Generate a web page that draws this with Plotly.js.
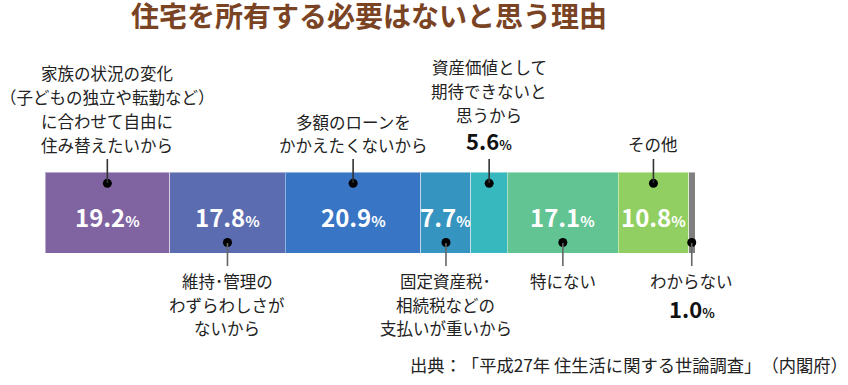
<!DOCTYPE html>
<html>
<head>
<meta charset="utf-8">
<script src="https://cdn.plot.ly/plotly-3.0.1.min.js"></script>
<style>html,body{margin:0;padding:0;background:#fff;}#chart{width:848px;height:385px;}
text{text-spacing-trim:space-all;}</style>
</head>
<body>
<div id="chart"></div>
<script>
// ---- data ----
const categories = [
  "家族の状況の変化（子どもの独立や転勤など）に合わせて自由に住み替えたいから",
  "維持･管理のわずらわしさがないから",
  "多額のローンをかかえたくないから",
  "固定資産税･相続税などの支払いが重いから",
  "資産価値として期待できないと思うから",
  "特にない",
  "その他",
  "わからない"
];
const values = [19.2, 17.8, 20.9, 7.7, 5.6, 17.1, 10.8, 1.0];
const labelLines = [
  ["家族の状況の変化", "（子どもの独立や転勤など）", "に合わせて自由に", "住み替えたいから"],
  ["維持･管理の", "わずらわしさが", "ないから"],
  ["多額のローンを", "かかえたくないから"],
  ["固定資産税･", "相続税などの", "支払いが重いから"],
  ["資産価値として", "期待できないと", "思うから"],
  ["特にない"],
  ["その他"],
  ["わからない"]
];
const sides = ["top", "bottom", "top", "bottom", "top", "bottom", "top", "bottom"];
const valueInside = [true, true, true, true, false, true, true, false];
const colors = ["#8064A2", "#5B6CB0", "#3875C5", "#3594C0", "#36B8BE", "#62C393", "#92CF62", "#808080"];
const titleText = "住宅を所有する必要はないと思う理由";
const sourceText = "出典：「平成27年 住生活に関する世論調査」（内閣府）";

// ---- layout helpers ----
const W = 848, H = 385, T = 172, B = 132;
const plotH = H - T - B;
const py = p => (H - B - p) / plotH; // pixel y -> paper y
const FONT = '"Noto Sans CJK JP", "Noto Sans", sans-serif';

const total = values.reduce((a, b) => a + b, 0);
const mids = [];
let acc = 0;
values.forEach(v => { mids.push(acc + v / 2); acc += v; });

const traces = values.map((v, i) => ({
  type: 'bar', orientation: 'h', y: [0], x: [v], width: [1],
  name: categories[i],
  marker: { color: colors[i], line: { color: 'rgba(255,255,255,0.45)', width: 1 } },
  hoverinfo: 'skip', showlegend: false
}));

// dots
traces.push({
  type: 'scatter', mode: 'markers', cliponaxis: false, showlegend: false, hoverinfo: 'skip',
  x: mids,
  y: sides.map(s => s === 'top' ? 0.36 : -0.37),
  marker: { color: '#000', size: 9 }
});

const shapes = [];
const annotations = [];

const topLineY = { 0: [73, 97, 121, 145], 2: [122, 145], 4: [67, 91, 115], 6: [144] };
const botLineY = [281, 305, 328];

mids.forEach((m, i) => {
  if (sides[i] === 'top') {
    shapes.push({ type: 'line', xref: 'x', yref: 'paper', x0: m, x1: m, y0: py(159), y1: py(183),
      line: { color: '#333', width: 1.6 } });
    const ys = topLineY[i];
    labelLines[i].forEach((t, k) => {
      annotations.push({ xref: 'x', yref: 'paper', x: m, y: py(ys[k]), text: t, showarrow: false,
        xanchor: 'center', yanchor: 'middle', font: { family: FONT, size: 16.5, color: '#222' } });
    });
    if (!valueInside[i]) {
      annotations.push({ xref: 'x', yref: 'paper', x: m, y: py(140),
        text: values[i].toFixed(1) + '<span style="font-size:13px">%</span>', showarrow: false,
        xanchor: 'center', yanchor: 'middle', font: { family: FONT, size: 22, color: '#111', weight: 700 } });
    }
  } else {
    shapes.push({ type: 'line', xref: 'x', yref: 'paper', x0: m, x1: m, y0: py(243), y1: py(266),
      line: { color: '#666', width: 1.6 } });
    labelLines[i].forEach((t, k) => {
      annotations.push({ xref: 'x', yref: 'paper', x: m, y: py(botLineY[k]), text: t, showarrow: false,
        xanchor: 'center', yanchor: 'middle', font: { family: FONT, size: 16.5, color: '#222' } });
    });
    if (!valueInside[i]) {
      annotations.push({ xref: 'x', yref: 'paper', x: m, y: py(308),
        text: values[i].toFixed(1) + '<span style="font-size:13px">%</span>', showarrow: false,
        xanchor: 'center', yanchor: 'middle', font: { family: FONT, size: 22, color: '#111', weight: 700 } });
    }
  }
  if (valueInside[i]) {
    annotations.push({ xref: 'x', yref: 'paper', x: m, y: py(216),
      text: values[i].toFixed(1) + '<span style="font-size:15px">%</span>', showarrow: false,
      xanchor: 'center', yanchor: 'middle', font: { family: FONT, size: 24, color: '#fff', weight: 700 } });
  }
});

// source
annotations.push({ xref: 'paper', yref: 'paper', x: (850 - 45) / (W - 45 - 153), y: py(364), text: sourceText,
  showarrow: false, xanchor: 'right', yanchor: 'middle', font: { family: FONT, size: 17.3, color: '#222' } });

const layout = {
  width: W, height: H,
  margin: { l: 45, r: 153, t: T, b: B, pad: 0 },
  paper_bgcolor: '#fff', plot_bgcolor: '#fff',
  barmode: 'stack', bargap: 0,
  title: { text: titleText, x: 369 / W, xanchor: 'center', y: 1 - 17 / H, yanchor: 'middle', yref: 'container',
    font: { family: FONT, size: 28, color: '#7A4424', weight: 700 } },
  xaxis: { range: [0, total], visible: false, fixedrange: true },
  yaxis: { range: [-0.5, 0.5], visible: false, fixedrange: true },
  shapes: shapes,
  annotations: annotations,
  showlegend: false
};

Plotly.newPlot('chart', traces, layout, { displayModeBar: false, staticPlot: true });
</script>
</body>
</html>
